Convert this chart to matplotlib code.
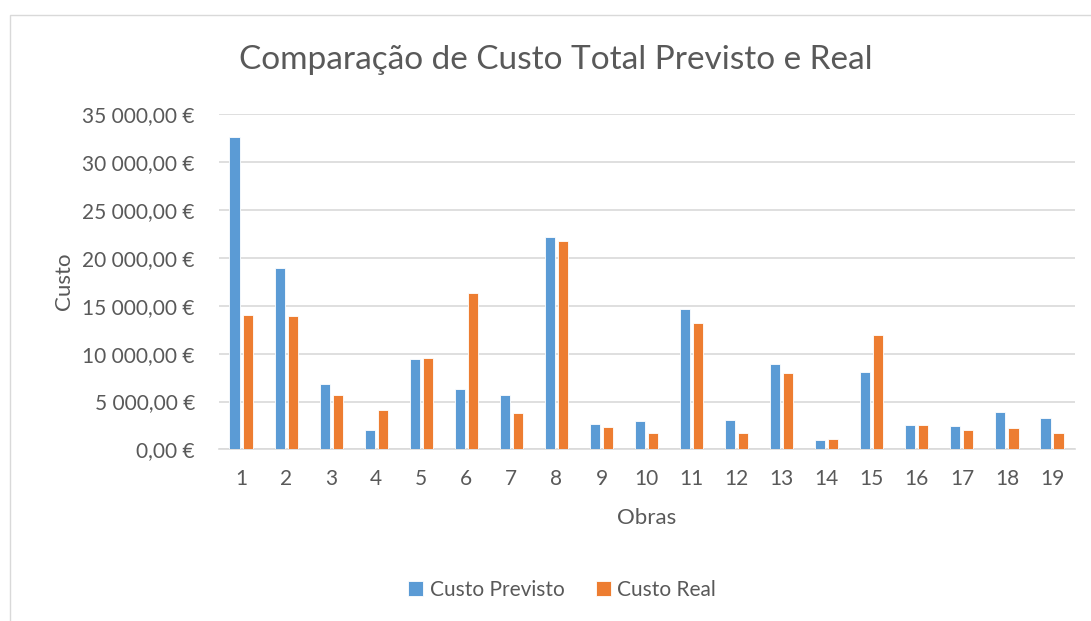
import matplotlib.pyplot as plt
import matplotlib.patches as patches
import numpy as np

obras = [str(i) for i in range(1, 20)]
custo_previsto = [32650, 18900, 6850, 2050, 9480, 6350, 5700, 22150, 2680, 2950,
                  14680, 3060, 8900, 940, 8100, 2600, 2430, 3930, 3300]
custo_real = [13980, 13920, 5730, 4170, 9510, 16300, 3820, 21700, 2360, 1770,
              13220, 1740, 8030, 1080, 11960, 2570, 2050, 2190, 1770]

plt.rcParams['font.family'] = ['Lato', 'DejaVu Sans']
grey = '#595959'

fig = plt.figure(figsize=(10.91, 6.21), dpi=100)
# chart border
fig.patches.append(patches.Rectangle((10 / 1091, -0.1), 1.2, 1 - 15 / 621 + 0.1,
                                     transform=fig.transFigure, fill=False,
                                     edgecolor='#D9D9D9', linewidth=1))

ax = fig.add_axes([0.2003, 0.2762, 0.7846, 0.5402])
x = np.arange(len(obras))
w = 0.225
ax.bar(x - 0.145, custo_previsto, w, color='#5B9BD5', edgecolor='white',
       linewidth=0.6, label='Custo Previsto', zorder=3)
ax.bar(x + 0.145, custo_real, w, color='#ED7D31', edgecolor='white',
       linewidth=0.6, label='Custo Real', zorder=3)

ax.set_xlim(-0.5, len(obras) - 0.5)
ax.set_ylim(0, 35000)
ax.set_yticks(range(0, 35001, 5000))
ax.set_yticklabels([f"{v:,.2f} €".replace(',', ' ').replace('.', ',')
                    for v in range(0, 35001, 5000)])
ax.set_xticks(x)
ax.set_xticklabels(obras)
ax.grid(axis='y', color='#D9D9D9', linewidth=1.2, zorder=0)
for s in ['top', 'right', 'left']:
    ax.spines[s].set_visible(False)
ax.spines['bottom'].set_color('#D9D9D9')
ax.spines['bottom'].set_linewidth(1.2)
ax.tick_params(length=0, labelsize=15, colors=grey)
ax.tick_params(axis='x', pad=14)
ax.tick_params(axis='y', pad=17)

ax.set_xlabel('Obras', fontsize=16, color=grey, labelpad=14)
ax.set_ylabel('Custo', fontsize=16, color=grey, labelpad=6)
fig.text(556 / 1091, 1 - 60 / 621, 'Comparação de Custo Total Previsto e Real',
         ha='center', va='center', fontsize=24, color=grey)

fig.legend(loc='center', bbox_to_anchor=(562 / 1091, 1 - 590 / 621), ncol=2,
           frameon=False, fontsize=15, labelcolor=grey, handlelength=0.75,
           handleheight=0.75, handletextpad=0.3, columnspacing=1.5)

fig.savefig('out.png', dpi=100)
